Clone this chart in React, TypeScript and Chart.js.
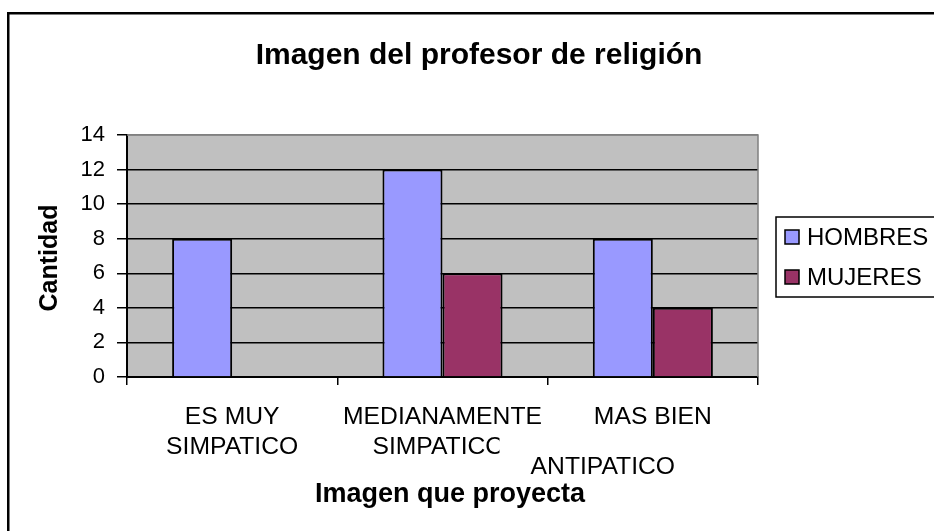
import React, { useEffect, useRef } from "react";
import { Chart, registerables } from "chart.js";

Chart.register(...registerables);

const chartTitle = "Imagen del profesor de religión";
const xAxisTitle = "Imagen que proyecta";
const yAxisTitle = "Cantidad";
const categories: string[][] = [
  ["ES MUY", "SIMPATICO"],
  ["MEDIANAMENTE", "SIMPATICO"],
  ["MAS BIEN", "ANTIPATICO"],
];
const seriesNames = ["HOMBRES", "MUJERES"];
const hombres = [8, 12, 8];
const mujeres = [0, 6, 4];
const yTicks = [0, 2, 4, 6, 8, 10, 12, 14];
const seriesColors = ["#9999FF", "#993366"];

const FONT = '"Liberation Sans", Arial, Helvetica, sans-serif';

const decor = {
  id: "decor",
  beforeDraw(chart: any) {
    const { ctx, chartArea: a } = chart;
    ctx.save();
    ctx.fillStyle = "#ffffff";
    ctx.fillRect(0, 0, chart.width, chart.height);
    ctx.fillStyle = "#000000";
    ctx.fillRect(7, 12, chart.width - 7, 2.5);
    ctx.fillRect(7, 12, 2.5, chart.height - 12);
    ctx.fillStyle = "#C0C0C0";
    ctx.fillRect(a.left, a.top, a.right - a.left, a.bottom - a.top);
    ctx.restore();
  },
  beforeDatasetsDraw(chart: any) {
    const { ctx, chartArea: a } = chart;
    ctx.save();
    ctx.strokeStyle = "#808080";
    ctx.lineWidth = 1.5;
    ctx.beginPath();
    ctx.moveTo(a.left, a.top);
    ctx.lineTo(a.right, a.top);
    ctx.lineTo(a.right, a.bottom);
    ctx.stroke();
    ctx.restore();
  },
  afterDraw(chart: any) {
    const { ctx, chartArea: a } = chart;
    const xs = chart.scales.x;
    ctx.save();
    ctx.fillStyle = "#000000";
    ctx.textAlign = "center";
    ctx.textBaseline = "middle";

    // title
    ctx.font = `bold 30px ${FONT}`;
    ctx.fillText(chartTitle, 479, 56);

    // y axis title
    ctx.save();
    ctx.translate(50, 258);
    ctx.rotate(-Math.PI / 2);
    ctx.font = `bold 25px ${FONT}`;
    ctx.fillText(yAxisTitle, 0, 0);
    ctx.restore();

    // x axis title
    ctx.font = `bold 27px ${FONT}`;
    ctx.fillText(xAxisTitle, 450, 495);

    // category labels
    ctx.font = `24.7px ${FONT}`;
    categories.forEach((lines, i) => {
      const cx = xs.getPixelForValue(i);
      lines.forEach((line, j) => {
        let x = cx;
        let y = a.bottom + 40 + j * 30;
        if (i === 2 && j === 1) {
          x = cx - 50;
          y = a.bottom + 90;
        }
        if (i === 1 && j === 1) {
          ctx.save();
          ctx.beginPath();
          ctx.rect(cx - 90, y - 20, 90 + 57, 40);
          ctx.clip();
          ctx.fillText(line, x - 4, y);
          ctx.restore();
        } else {
          ctx.fillText(line, x, y);
        }
      });
    });

    // legend
    ctx.strokeStyle = "#000000";
    ctx.lineWidth = 1.5;
    ctx.strokeRect(776, 217, 200, 80);
    ctx.font = `24px ${FONT}`;
    ctx.textAlign = "left";
    seriesNames.forEach((name, i) => {
      const cy = 237 + i * 40;
      ctx.fillStyle = seriesColors[i];
      ctx.fillRect(785, cy - 7, 14, 14);
      ctx.strokeStyle = "#000000";
      ctx.lineWidth = 1.5;
      ctx.strokeRect(785, cy - 7, 14, 14);
      ctx.fillStyle = "#000000";
      ctx.fillText(name, 807, cy + 1);
    });
    ctx.restore();
  },
};

export default function App() {
  const ref = useRef<HTMLCanvasElement | null>(null);

  useEffect(() => {
    if (!ref.current) return;
    const chart = new Chart(ref.current, {
      type: "bar",
      data: {
        labels: categories.map((c) => c.join(" ")),
        datasets: [
          {
            label: seriesNames[0],
            data: hombres,
            backgroundColor: seriesColors[0],
            borderColor: "#000000",
            borderWidth: 2,
            categoryPercentage: 0.571,
            barPercentage: 1,
          },
          {
            label: seriesNames[1],
            data: mujeres,
            backgroundColor: seriesColors[1],
            borderColor: "#000000",
            borderWidth: 2,
            categoryPercentage: 0.571,
            barPercentage: 1,
          },
        ],
      },
      options: {
        responsive: false,
        animation: false,
        layout: { padding: { left: 0, top: 135, right: 176, bottom: 134 } },
        plugins: {
          legend: { display: false },
          title: { display: false },
          tooltip: { enabled: false },
        },
        scales: {
          x: {
            offset: true,
            ticks: { display: false },
            grid: {
              display: true,
              offset: true,
              drawOnChartArea: false,
              drawTicks: true,
              tickLength: 8,
              color: "#000000",
              lineWidth: 1.5,
            },
            border: { display: true, color: "#000000", width: 2 },
            afterFit: (s: any) => {
              s.height = 20;
            },
          },
          y: {
            min: 0,
            max: 14,
            afterBuildTicks: (s: any) => {
              s.ticks = yTicks.map((v) => ({ value: v }));
            },
            ticks: {
              color: "#000000",
              font: { family: FONT, size: 22 },
              padding: 12,
            },
            grid: {
              color: (c: any) => (c.tick && c.tick.value === 14 ? "#808080" : "#000000"),
              tickColor: "#000000",
              lineWidth: 1.5,
              tickLength: 10,
            },
            border: { display: true, color: "#000000", width: 2 },
            afterFit: (s: any) => {
              s.width = 127;
            },
          },
        },
      },
      plugins: [decor],
    });
    return () => chart.destroy();
  }, []);

  return (
    <div style={{ position: "fixed", left: 0, top: 0, width: 934, height: 531, background: "#fff" }}>
      <canvas ref={ref} width={934} height={531} style={{ width: 934, height: 531, display: "block" }} />
    </div>
  );
}
